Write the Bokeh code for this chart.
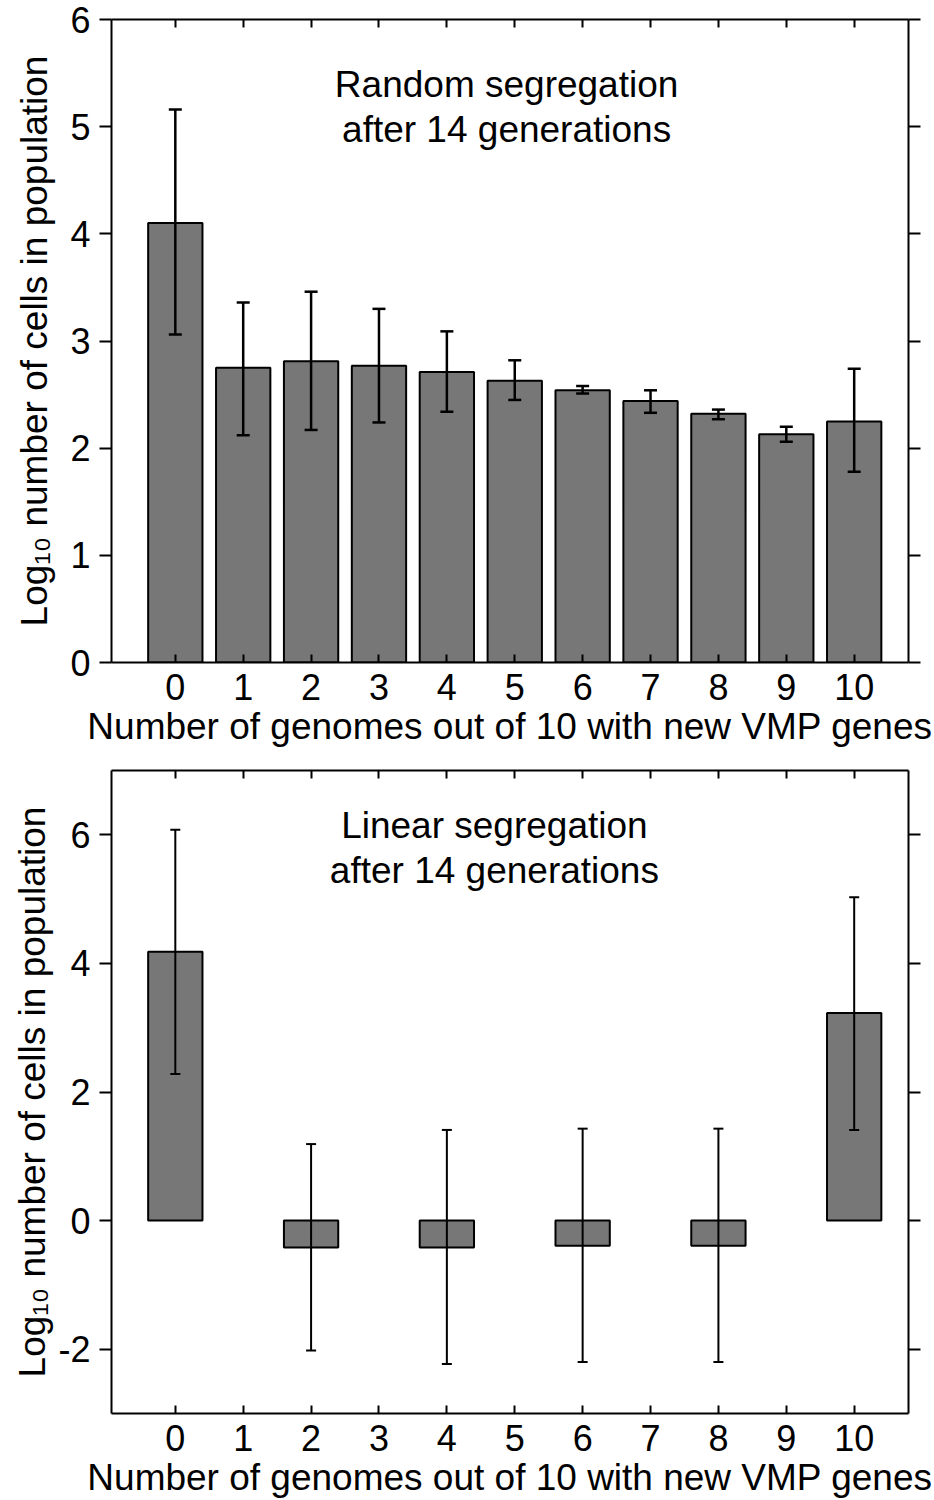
from bokeh.plotting import figure
from bokeh.models import Range1d, FixedTicker, LinearAxis, Label, Whisker, ColumnDataSource, TeeHead
from bokeh.layouts import column
from bokeh.embed import file_html
from bokeh.resources import INLINE

# ---- data ----
categories = list(range(11))
x_title = "Number of genomes out of 10 with new VMP genes"
y_title = "Log\u2081\u2080 number of cells in population"

random_x = [0, 1, 2, 3, 4, 5, 6, 7, 8, 9, 10]
random_mean = [4.10, 2.75, 2.81, 2.77, 2.71, 2.63, 2.54, 2.44, 2.32, 2.13, 2.25]
random_upper = [5.16, 3.36, 3.46, 3.30, 3.09, 2.82, 2.58, 2.54, 2.36, 2.20, 2.74]
random_lower = [3.06, 2.12, 2.17, 2.24, 2.34, 2.45, 2.51, 2.33, 2.27, 2.06, 1.78]
random_yticks = [0, 1, 2, 3, 4, 5, 6]
random_text = ["Random segregation", "after 14 generations"]

linear_x = [0, 2, 4, 6, 8, 10]
linear_mean = [4.18, -0.42, -0.42, -0.39, -0.39, 3.23]
linear_upper = [6.08, 1.19, 1.41, 1.43, 1.43, 5.03]
linear_lower = [2.28, -2.02, -2.23, -2.20, -2.20, 1.41]
linear_yticks = [-2, 0, 2, 4, 6]
linear_text = ["Linear segregation", "after 14 generations"]

FONT = "Liberation Sans"
BAR_COLOR = "#777777"


def make_panel(xs, means, uppers, lowers, yr, yticks, texts, text_x, text_y, height,
               border_top, border_bottom, err_w, cap, ylabel_standoff):
    p = figure(width=934, height=height, output_backend="svg", toolbar_location=None,
               x_range=Range1d(-0.94, 10.8), y_range=Range1d(*yr),
               min_border_left=111, min_border_right=26,
               min_border_top=border_top, min_border_bottom=border_bottom,
               x_axis_label=x_title, y_axis_label=y_title)
    p.outline_line_color = None
    p.xgrid.visible = False
    p.ygrid.visible = False
    p.background_fill_color = "white"
    p.border_fill_color = "white"

    p.vbar(x=xs, top=means, bottom=0, width=0.8, fill_color=BAR_COLOR,
           line_color="black", line_width=2)

    src = ColumnDataSource(dict(x=xs, upper=uppers, lower=lowers))
    w = Whisker(source=src, base="x", upper="upper", lower="lower",
                line_color="black", line_width=err_w, level="overlay",
                upper_head=TeeHead(size=cap, line_width=err_w, line_color="black"),
                lower_head=TeeHead(size=cap, line_width=err_w, line_color="black"))
    p.add_layout(w)

    xa = p.xaxis[0]
    xa.ticker = FixedTicker(ticks=categories)
    ya = p.yaxis[0]
    ya.ticker = FixedTicker(ticks=yticks)
    ya.major_label_overrides = {t: str(t) for t in yticks}

    for ax in (xa, ya):
        ax.axis_line_width = 2
        ax.major_tick_line_width = 2
        ax.minor_tick_line_color = None
        ax.major_label_text_font = FONT
        ax.major_label_text_font_size = "36px"
        ax.major_label_text_color = "black"
        ax.axis_label_text_font = FONT
        ax.axis_label_text_font_size = "37px"
        ax.axis_label_text_font_style = "normal"
        ax.axis_label_text_color = "black"
    xa.major_tick_in = 8
    xa.major_tick_out = 0
    xa.major_label_standoff = 11
    xa.axis_label_standoff = 3
    ya.major_tick_in = 0
    ya.major_tick_out = 12
    ya.major_label_standoff = 9
    ya.axis_label_standoff = ylabel_standoff

    top_ax = LinearAxis(ticker=FixedTicker(ticks=categories))
    top_ax.major_tick_in = 8
    top_ax.major_tick_out = 0
    top_ax.major_label_overrides = {t: "" for t in categories}
    right_ax = LinearAxis(ticker=FixedTicker(ticks=yticks))
    right_ax.major_tick_in = 0
    right_ax.major_tick_out = 12
    right_ax.major_label_overrides = {t: "" for t in yticks}
    for ax in (top_ax, right_ax):
        ax.axis_line_width = 2
        ax.major_tick_line_width = 2
        ax.minor_tick_line_color = None
        ax.major_label_text_font_size = "8px"
        ax.major_label_standoff = 0
    p.add_layout(top_ax, "above")
    p.add_layout(right_ax, "right")

    for t, ty in zip(texts, text_y):
        p.add_layout(Label(x=text_x, y=ty, text=t, text_align="center",
                           text_baseline="middle", text_font=FONT,
                           text_font_size="37px", text_color="black"))
    return p


p1 = make_panel(random_x, random_mean, random_upper, random_lower, (0, 6), random_yticks,
                random_text, 4.88, [5.39, 4.97], 749, 19, 87, 2.5, 13, 12)
p2 = make_panel(linear_x, linear_mean, linear_upper, linear_lower, (-3, 7), linear_yticks,
                linear_text, 4.7, [6.14, 5.44], 751, 21, 87, 2, 10, 2)

layout = column(p1, p2, spacing=0)
open("out.html", "w").write(file_html(layout, INLINE))
